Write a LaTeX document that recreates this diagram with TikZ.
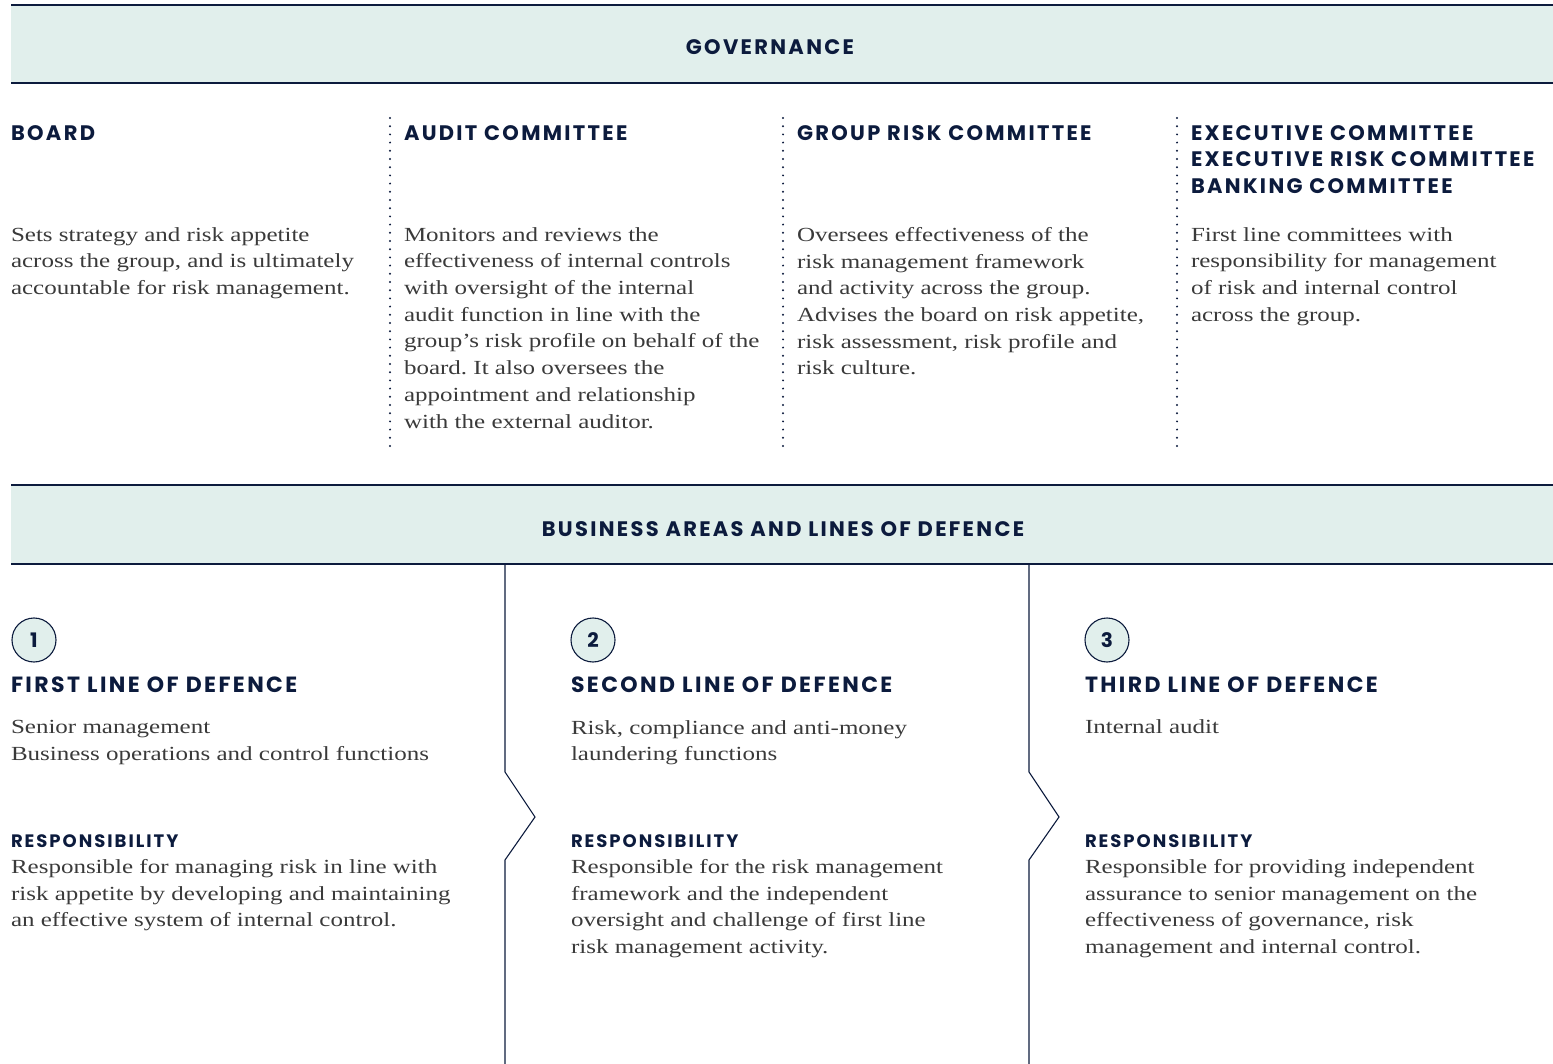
\documentclass[tikz,border=0pt]{standalone}
\usepackage{fontspec}
\setmainfont{Liberation Serif}[FakeStretch=1.25]
\newfontfamily\headfont{Poppins}[LetterSpace=11]
\usepackage{tikz}
\usetikzlibrary{positioning}

\definecolor{navy}{HTML}{0C1B3D}
\definecolor{bandfill}{HTML}{E1EFEC}
\definecolor{bodygrey}{HTML}{3A3A3A}

\begin{document}
\frenchspacing
\begin{tikzpicture}[
    x=1pt, y=-1pt,
    every node/.style={inner sep=0pt, outer sep=0pt},
    bandtitle/.style={font=\headfont\bfseries\fontsize{21}{24}\selectfont, text=navy},
    colhead/.style={anchor=north west, yshift=14.6pt, align=left,
        font=\headfont\bfseries\fontsize{21}{26.5}\selectfont, text=navy},
    linehead/.style={anchor=base west, font=\headfont\bfseries\fontsize{22}{26.5}\selectfont, text=navy},
    subhead/.style={anchor=base west, font=\headfont\bfseries\fontsize{18}{20}\selectfont, text=navy},
    bodytext/.style={anchor=north west, yshift=13.7pt, align=left,
        font=\fontsize{20}{26.7}\selectfont, text=bodygrey},
    numcircle/.style={circle, draw=navy, line width=1.1pt, fill=bandfill, minimum size=44pt,
        font=\headfont\bfseries\fontsize{20}{20}\selectfont, text=navy},
    bandline/.style={draw=navy, line width=1.4pt},
    sepline/.style={draw=navy, line width=2.2pt, line cap=round, dash pattern=on 0pt off 8.2pt},
    chevline/.style={draw=navy, line width=1.1pt}
]
    \useasboundingbox (0,0) rectangle (1553,1064);

    % Governance band
    \fill[bandfill] (11,5) rectangle (1553,83);
    \draw[bandline] (11,5) -- (1553,5);
    \draw[bandline] (11,83) -- (1553,83);
    \node[bandtitle] (gov) at (770,47) {GOVERNANCE};

    % Governance columns
    \node[colhead] (board) at (11,140) {BOARD};
    \node[colhead] (audit) at (404,140) {AUDIT COMMITTEE};
    \node[colhead] (grc) at (797,140) {GROUP RISK COMMITTEE};
    \node[colhead] (exec) at (1191,140) {EXECUTIVE COMMITTEE\\EXECUTIVE RISK COMMITTEE\\BANKING COMMITTEE};

    \node[bodytext] (boardtxt) at (11,241) {Sets strategy and risk appetite\\across the group, and is ultimately\\accountable for risk management.};
    \node[bodytext] (audittxt) at (404,241) {Monitors and reviews the\\effectiveness of internal controls\\with oversight of the internal\\audit function in line with the\\group’s risk profile on behalf of the\\board. It also oversees the\\appointment and relationship\\with the external auditor.};
    \node[bodytext] (grctxt) at (797,241) {Oversees effectiveness of the\\risk management framework\\and activity across the group.\\Advises the board on risk appetite,\\risk assessment, risk profile and\\risk culture.};
    \node[bodytext] (exectxt) at (1191,241) {First line committees with\\responsibility for management\\of risk and internal control\\across the group.};

    % Dotted separators
    \foreach \sx in {390,783,1177}
        \draw[sepline] (\sx,118) -- (\sx,454);

    % Business areas band
    \fill[bandfill] (11,485) rectangle (1553,564);
    \draw[bandline] (11,485) -- (1553,485);
    \draw[bandline] (11,564) -- (1553,564);
    \node[bandtitle] (bus) at (783,529) {BUSINESS AREAS AND LINES OF DEFENCE};

    % Chevron dividers
    \foreach \cx in {505,1029}
        \draw[chevline] (\cx,564) -- (\cx,772) -- (\cx+30,817) -- (\cx,860) -- (\cx,1064);

    % Lines of defence
    \node[numcircle] (one) at (34,640) {1};
    \node[numcircle] (two) at (593,640) {2};
    \node[numcircle] (three) at (1107,640) {3};

    \node[linehead] (first) at (11,692) {FIRST LINE OF DEFENCE};
    \node[linehead] (second) at (571,692) {SECOND LINE OF DEFENCE};
    \node[linehead] (third) at (1085,692) {THIRD LINE OF DEFENCE};

    \node[bodytext] (firsttxt) at (11,734) {Senior management\\Business operations and control functions};
    \node[bodytext] (secondtxt) at (571,734) {Risk, compliance and anti-money\\laundering functions};
    \node[bodytext] (thirdtxt) at (1085,733) {Internal audit};

    \node[subhead] (firstresp) at (11,847) {RESPONSIBILITY};
    \node[subhead] (secondresp) at (571,847) {RESPONSIBILITY};
    \node[subhead] (thirdresp) at (1085,847) {RESPONSIBILITY};

    \node[bodytext] (firstresptxt) at (11,873) {Responsible for managing risk in line with\\risk appetite by developing and maintaining\\an effective system of internal control.};
    \node[bodytext] (secondresptxt) at (571,873) {Responsible for the risk management\\framework and the independent\\oversight and challenge of first line\\risk management activity.};
    \node[bodytext] (thirdresptxt) at (1085,873) {Responsible for providing independent\\assurance to senior management on the\\effectiveness of governance, risk\\management and internal control.};

\end{tikzpicture}
\end{document}
